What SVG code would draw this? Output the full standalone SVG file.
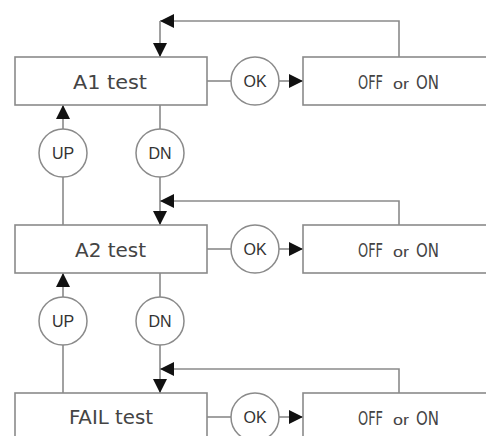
<svg xmlns="http://www.w3.org/2000/svg" width="486" height="436" viewBox="0 0 486 436">
<defs>
<style>
.box{fill:#fff;stroke:#8a8a8a;stroke-width:1.6}
.btn{fill:#fff;stroke:#8a8a8a;stroke-width:1.5}
.ln{fill:none;stroke:#8a8a8a;stroke-width:1.6}
.lcd{font-family:"DejaVu Sans Condensed","Liberation Sans",sans-serif;font-size:20px;font-weight:300;fill:#444}
.sm{font-family:"Liberation Sans",Arial,sans-serif;font-size:14px;fill:#444}
.lbl{font-family:"Liberation Sans",Arial,sans-serif;font-size:16px;fill:#333;text-anchor:middle}
</style>
<marker id="ah" viewBox="0 0 14 14" refX="14" refY="7" markerWidth="14" markerHeight="14" markerUnits="userSpaceOnUse" orient="auto">
<path d="M0,0 L14,7 L0,14 z" fill="#111"/>
</marker>
</defs>
<rect width="486" height="436" fill="#fff"/>
<g id="connectors">
<line class="ln" x1="207" y1="81" x2="231" y2="81"/>
<line class="ln" x1="279" y1="81" x2="303" y2="81" marker-end="url(#ah)"/>
<path class="ln" d="M399,57 V21 H160" marker-end="url(#ah)"/>
<line class="ln" x1="160" y1="21" x2="160" y2="57" marker-end="url(#ah)"/>
<line class="ln" x1="63" y1="129" x2="63" y2="105" marker-end="url(#ah)"/>
<line class="ln" x1="160" y1="105" x2="160" y2="129"/>
<line class="ln" x1="63" y1="225" x2="63" y2="177"/>
<line class="ln" x1="160" y1="177" x2="160" y2="225" marker-end="url(#ah)"/>
<path class="ln" d="M399,225 V201 H160" marker-end="url(#ah)"/>
<line class="ln" x1="207" y1="249" x2="231" y2="249"/>
<line class="ln" x1="279" y1="249" x2="303" y2="249" marker-end="url(#ah)"/>
<line class="ln" x1="63" y1="297" x2="63" y2="273" marker-end="url(#ah)"/>
<line class="ln" x1="160" y1="273" x2="160" y2="297"/>
<line class="ln" x1="63" y1="393" x2="63" y2="345"/>
<line class="ln" x1="160" y1="345" x2="160" y2="393" marker-end="url(#ah)"/>
<path class="ln" d="M399,393 V369 H160" marker-end="url(#ah)"/>
<line class="ln" x1="207" y1="417" x2="231" y2="417"/>
<line class="ln" x1="279" y1="417" x2="303" y2="417" marker-end="url(#ah)"/>
</g>
<g id="a1test"><rect class="box" x="15" y="57" width="192" height="48"/><text class="lcd" x="73" y="89" textLength="74" lengthAdjust="spacingAndGlyphs">A1 test</text></g>
<g id="ok1"><circle class="btn" cx="255" cy="81" r="24"/><text class="lbl" x="255" y="87">OK</text></g>
<g id="onoff1"><rect class="box" x="303" y="57" width="200" height="48"/><text class="lcd" x="358" y="89" textLength="25" lengthAdjust="spacingAndGlyphs">OFF</text><text class="sm" x="393" y="89" textLength="16" lengthAdjust="spacingAndGlyphs">or</text><text class="lcd" x="416" y="89" textLength="23" lengthAdjust="spacingAndGlyphs">ON</text></g>
<g id="up1"><circle class="btn" cx="63" cy="153" r="24"/><text class="lbl" x="63" y="159">UP</text></g>
<g id="dn1"><circle class="btn" cx="160" cy="153" r="24"/><text class="lbl" x="160" y="159">DN</text></g>
<g id="a2test"><rect class="box" x="15" y="225" width="192" height="48"/><text class="lcd" x="75" y="257" textLength="71" lengthAdjust="spacingAndGlyphs">A2 test</text></g>
<g id="ok2"><circle class="btn" cx="255" cy="249" r="24"/><text class="lbl" x="255" y="255">OK</text></g>
<g id="onoff2"><rect class="box" x="303" y="225" width="200" height="48"/><text class="lcd" x="358" y="257" textLength="25" lengthAdjust="spacingAndGlyphs">OFF</text><text class="sm" x="393" y="257" textLength="16" lengthAdjust="spacingAndGlyphs">or</text><text class="lcd" x="416" y="257" textLength="23" lengthAdjust="spacingAndGlyphs">ON</text></g>
<g id="up2"><circle class="btn" cx="63" cy="321" r="24"/><text class="lbl" x="63" y="327">UP</text></g>
<g id="dn2"><circle class="btn" cx="160" cy="321" r="24"/><text class="lbl" x="160" y="327">DN</text></g>
<g id="failtest"><rect class="box" x="15" y="393" width="192" height="60"/><text class="lcd" x="69" y="424" textLength="84" lengthAdjust="spacingAndGlyphs">FAIL test</text></g>
<g id="ok3"><circle class="btn" cx="255" cy="417" r="24"/><text class="lbl" x="255" y="423">OK</text></g>
<g id="onoff3"><rect class="box" x="303" y="393" width="200" height="60"/><text class="lcd" x="358" y="425" textLength="25" lengthAdjust="spacingAndGlyphs">OFF</text><text class="sm" x="393" y="425" textLength="16" lengthAdjust="spacingAndGlyphs">or</text><text class="lcd" x="416" y="425" textLength="23" lengthAdjust="spacingAndGlyphs">ON</text></g>
</svg>
